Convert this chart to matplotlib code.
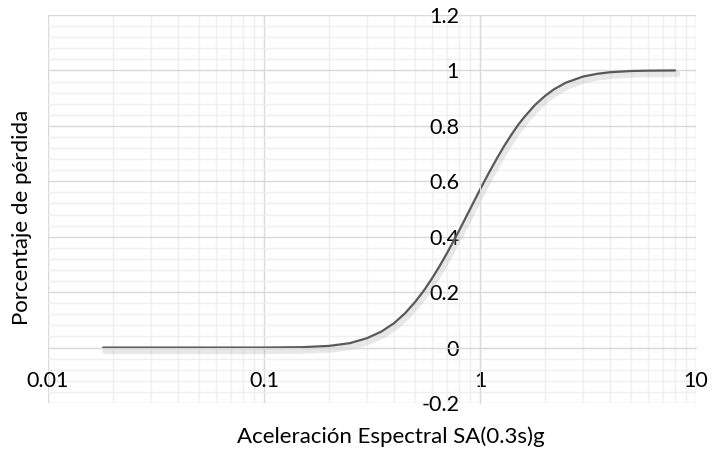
import matplotlib
matplotlib.use('Agg')

import matplotlib.pyplot as plt
import matplotlib.patheffects as pe
from matplotlib.ticker import LogLocator, MultipleLocator, FixedLocator, FixedFormatter, NullFormatter

# curve (Sa in g, fraction of loss)
sa = [0.018, 0.05, 0.1, 0.15, 0.2, 0.25, 0.3, 0.35, 0.4, 0.45, 0.5, 0.55,
      0.6, 0.65, 0.7, 0.75, 0.8, 0.85, 0.9, 0.95, 1.0, 1.1, 1.2, 1.3, 1.4,
      1.5, 1.6, 1.8, 2.0, 2.2, 2.5, 3.0, 3.5, 4.0, 5.0, 6.0, 8.0]
loss = [0.0, 0.0, 0.0001, 0.0014, 0.006, 0.016, 0.034, 0.058, 0.088, 0.124,
        0.164, 0.206, 0.250, 0.294, 0.338, 0.381, 0.422, 0.462, 0.500, 0.536,
        0.570, 0.631, 0.684, 0.730, 0.769, 0.803, 0.831, 0.876, 0.908, 0.932,
        0.956, 0.978, 0.988, 0.9935, 0.9979, 0.9992, 0.9999]

x_ticks = [0.01, 0.1, 1, 10]
x_labels = ['0.01', '0.1', '1', '10']
y_ticks = [-0.2, 0, 0.2, 0.4, 0.6, 0.8, 1, 1.2]
y_labels = ['-0.2', '0', '0.2', '0.4', '0.6', '0.8', '1', '1.2']

plt.rcParams['font.family'] = ['Lato', 'DejaVu Sans']

fig = plt.figure(figsize=(7.13, 4.62), dpi=100)
rect = [48 / 713, 1 - 403 / 462, 648 / 713, 388 / 462]


def setup_scales(a):
    a.set_xscale('log')
    a.set_xlim(0.01, 10)
    a.set_ylim(-0.2, 1.2)
    a.xaxis.set_major_locator(FixedLocator(x_ticks))
    a.xaxis.set_minor_locator(LogLocator(base=10, subs=range(2, 10)))
    a.xaxis.set_minor_formatter(NullFormatter())
    a.yaxis.set_major_locator(FixedLocator(y_ticks))
    a.yaxis.set_minor_locator(MultipleLocator(0.04))


# background axes only for the gridlines, so labels sit on top of them
bg = fig.add_axes(rect)
setup_scales(bg)
bg.grid(which='major', color='#d9d9d9', linewidth=1.0)
bg.grid(which='minor', color='#efefef', linewidth=1.0)
bg.tick_params(which='both', length=0, labelbottom=False, labelleft=False)
for s in bg.spines.values():
    s.set_visible(False)

ax = fig.add_axes(rect)
ax.patch.set_alpha(0)
setup_scales(ax)
ax.xaxis.set_major_formatter(FixedFormatter(x_labels))
ax.yaxis.set_major_formatter(FixedFormatter(y_labels))

# axes cross at x=1 and y=0 like the Excel chart
ax.spines['left'].set_position(('data', 1))
ax.spines['bottom'].set_position(('data', 0))
ax.spines['right'].set_visible(False)
ax.spines['top'].set_visible(False)
for s in ('left', 'bottom'):
    ax.spines[s].set_color('#d9d9d9')

ax.tick_params(which='both', length=0)
ax.tick_params(axis='y', pad=15, labelsize=15.5, colors='#000000')
ax.tick_params(axis='x', pad=17, labelsize=15.5, colors='#000000')

ax.plot(sa, loss, color='#595959', linewidth=1.6, solid_capstyle='round',
        path_effects=[pe.SimpleLineShadow(offset=(1.5, -2.5), shadow_color='#999999', alpha=0.22, linewidth=4.5),
                      pe.Normal()])

fig.text(22 / 713, 1 - 217 / 462, 'Porcentaje de pérdida', rotation=90,
         ha='center', va='center', fontsize=16)
fig.text(391 / 713, 1 - 437 / 462, 'Aceleración Espectral SA(0.3s)g',
         ha='center', va='center', fontsize=16)

fig.savefig('out.png', dpi=100)
